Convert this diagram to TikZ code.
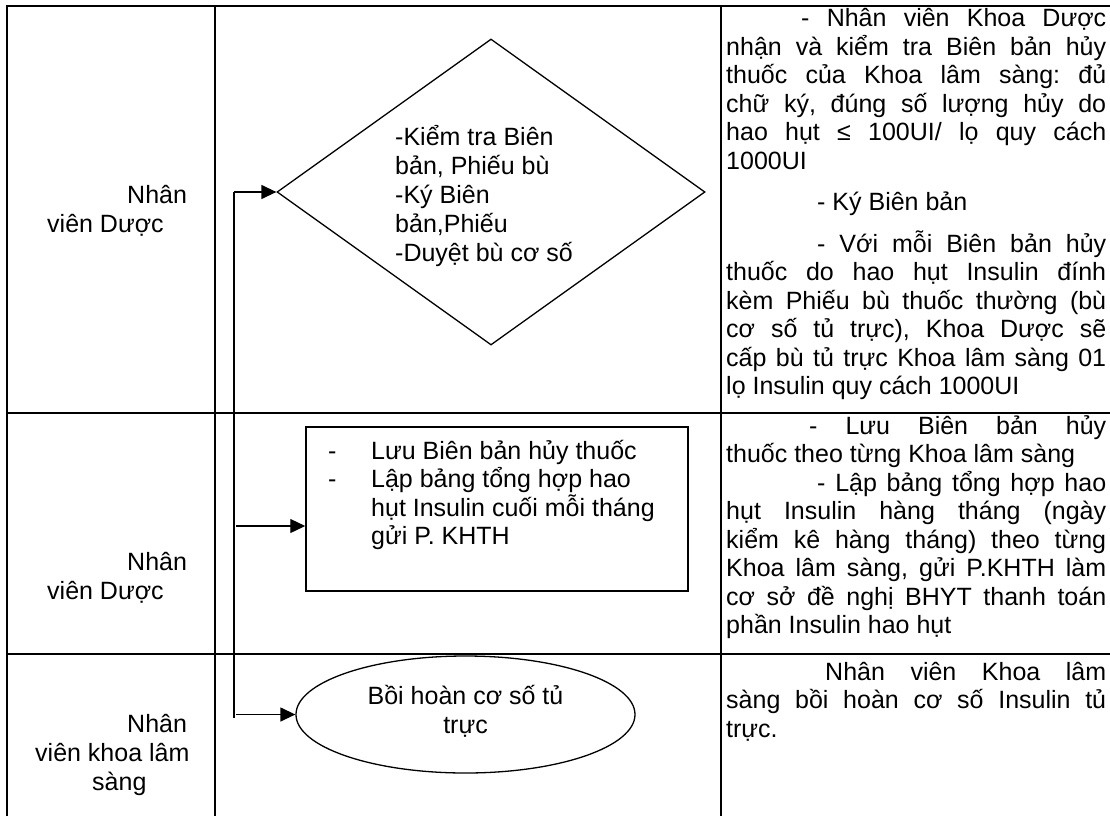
\documentclass[tikz,border=0pt]{standalone}
\usepackage{fontspec}
\setmainfont{Liberation Sans}
\usetikzlibrary{shapes.geometric,arrows.meta}
\frenchspacing
\newcommand{\JL}[1]{\hbox to 380pt{#1}}
\newcommand{\LL}[1]{\hbox to 380pt{#1\hfil}}
\tikzset{
  tbl/.style={line width=2pt},
  shp/.style={draw, line width=1.3pt, inner sep=0pt},
  arr/.style={line width=1.3pt, -{Triangle[length=15pt,width=14pt]}},
  conn/.style={line width=1.3pt},
  txt/.style={inner sep=0pt, anchor=base west, font=\fontsize{25pt}{28.5pt}\selectfont\frenchspacing},
}
\begin{document}
\begin{tikzpicture}[x=1pt,y=-1pt]
\useasboundingbox (0,0) rectangle (1110,816);
% table
\draw[tbl] (7,816) -- (7,6) -- (1110,6);
\draw[tbl] (215,6) -- (215,816);
\draw[tbl] (721,6) -- (721,816);
\draw[tbl] (7,413) -- (1110,413);
\draw[tbl] (7,654) -- (1110,654);
% left labels
\node[txt] (lab1) at (47,203) {\vtop{\baselineskip=29pt\hbox{\hspace*{80pt}Nhân}\hbox{viên Dược}}};
\node[txt] (lab2) at (47,570) {\vtop{\baselineskip=29pt\hbox{\hspace*{80pt}Nhân}\hbox{viên Dược}}};
\node[txt] (lab3) at (35,732) {\vtop{\baselineskip=29pt\hbox{\hspace*{92pt}Nhân}\hbox{viên khoa lâm}\hbox{\hspace*{57pt}sàng}}};
% shapes
\node[shp, diamond, minimum width=428pt, minimum height=306pt] (dia) at (491,192) {};
\node[txt] (diatext) at (395,145) {\vtop{\baselineskip=29pt\hbox{-Kiểm tra Biên}\hbox{bản, Phiếu bù}\hbox{-Ký Biên}\hbox{bản,Phiếu}\hbox{-Duyệt bù cơ số}}};
\node[shp, rectangle, line width=1.5pt, minimum width=382pt, minimum height=164pt] (box) at (497,509) {};
\node[txt] (boxtext) at (328,459) {\vtop{\baselineskip=28.5pt\hbox{\hbox to 43pt{-\hfil}Lưu Biên bản hủy thuốc}\hbox{\hbox to 43pt{-\hfil}Lập bảng tổng hợp hao}\hbox{\hspace*{43pt}hụt Insulin cuối mỗi tháng}\hbox{\hspace*{43pt}gửi P. KHTH}}};
\node[shp, ellipse, minimum width=339pt, minimum height=117pt] (ell) at (465.5,714.5) {};
\node[txt, anchor=base] (elltext) at (465.5,704) {\vtop{\baselineskip=29pt\hbox to 0pt{\hss Bồi hoàn cơ số tủ\hss}\hbox to 0pt{\hss trực\hss}}};
% connectors
\coordinate (vtop) at (234,192);
\coordinate (vmid) at (236,526);
\coordinate (vlow) at (236,714.5);
\coordinate (vbot) at (234,718);
\draw[conn] (vtop) -- (vbot);
\draw[arr] (vtop) -- (dia.west);
\draw[arr] (vmid) -- (vmid -| box.west);
\draw[arr] (vlow) -- (ell.west);
% right column
\node[txt] (r1) at (726,27) {\vtop{\baselineskip=28.5pt
\JL{\hspace*{75pt}- Nhân viên Khoa Dược}
\JL{nhận và kiểm tra Biên bản hủy}
\JL{thuốc của Khoa lâm sàng: đủ}
\JL{chữ ký, đúng số lượng hủy do}
\JL{hao hụt ≤ 100UI/ lọ quy cách}
\LL{1000UI}
\vskip13pt
\LL{\hspace*{91pt}- Ký Biên bản}
\vskip13pt
\JL{\hspace*{91pt}- Với mỗi Biên bản hủy}
\JL{thuốc do hao hụt Insulin đính}
\JL{kèm Phiếu bù thuốc thường (bù}
\JL{cơ số tủ trực), Khoa Dược sẽ}
\JL{cấp bù tủ trực Khoa lâm sàng 01}
\LL{lọ Insulin quy cách 1000UI}}};
\node[txt] (r2) at (726,434) {\vtop{\baselineskip=28.5pt
\JL{\hspace*{83pt}- Lưu Biên bản hủy}
\LL{thuốc theo từng Khoa lâm sàng}
\JL{\hspace*{91pt}- Lập bảng tổng hợp hao}
\JL{hụt Insulin hàng tháng (ngày}
\JL{kiểm kê hàng tháng) theo từng}
\JL{Khoa lâm sàng, gửi P.KHTH làm}
\JL{cơ sở đề nghị BHYT thanh toán}
\LL{phần Insulin hao hụt}}};
\node[txt] (r3) at (726,680) {\vtop{\baselineskip=28.5pt
\JL{\hspace*{99pt}Nhân viên Khoa lâm}
\JL{sàng bồi hoàn cơ số Insulin tủ}
\LL{trực.}}};
\end{tikzpicture}
\end{document}
